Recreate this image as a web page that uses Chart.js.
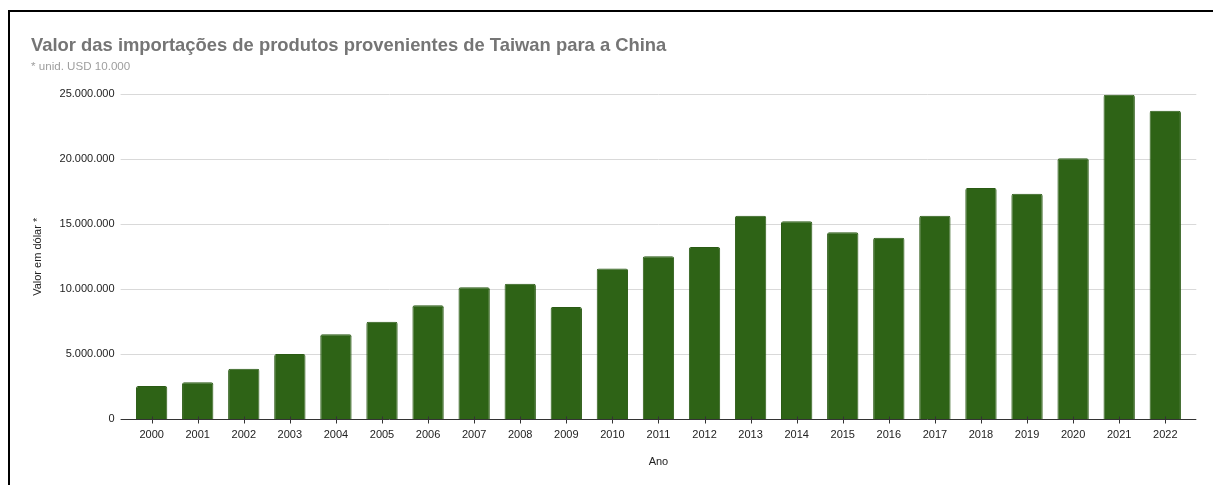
<!DOCTYPE html>
<html>
<head>
<meta charset="utf-8">
<script src="https://cdn.jsdelivr.net/npm/chart.js@4.4.1/dist/chart.umd.min.js"></script>
<style>
  html, body { margin: 0; padding: 0; background: #fff; overflow: hidden; }
  #frame { position: absolute; left: 8px; top: 10px; width: 1300px; height: 600px; border: 2px solid #000; }
  #wrap { position: absolute; left: 0; top: 0; width: 1213px; height: 485px; }
</style>
</head>
<body>
<div id="frame"></div>
<div id="wrap"><canvas id="chart" width="1213" height="485"></canvas></div>
<script>
// Data
const years = ['2000', '2001', '2002', '2003', '2004', '2005', '2006', '2007', '2008', '2009', '2010', '2011',
  '2012', '2013', '2014', '2015', '2016', '2017', '2018', '2019', '2020', '2021', '2022'];
const importValues = [2560000, 2850000, 3890000, 5020000, 6540000, 7510000, 8770000, 10150000, 10430000, 8640000,
  11600000, 12540000, 13250000, 15660000, 15230000, 14380000, 13970000, 15660000, 17790000, 17350000,
  20080000, 24970000, 23740000];
const yTicks = [0, 5000000, 10000000, 15000000, 20000000, 25000000];

const fmt = v => String(v).replace(/\B(?=(\d{3})+(?!\d))/g, '.');

// gridlines that run a bit past the plot on both sides, plus the black baseline
const gridPlugin = {
  id: 'extGrid',
  beforeDatasetsDraw(chart) {
    const { ctx, chartArea, scales } = chart;
    ctx.save();
    ctx.lineWidth = 1;
    ctx.strokeStyle = '#d9d9d9';
    yTicks.forEach(t => {
      if (t === 0) return;
      const y = Math.round(scales.y.getPixelForValue(t)) + 0.5;
      ctx.beginPath();
      ctx.moveTo(chartArea.left - 8, y);
      ctx.lineTo(chartArea.right + 8, y);
      ctx.stroke();
    });
    ctx.restore();
  },
  afterDatasetsDraw(chart) {
    const { ctx, chartArea, scales } = chart;
    const y = Math.round(scales.y.getPixelForValue(0)) + 0.5;
    ctx.save();
    ctx.strokeStyle = '#333';
    ctx.lineWidth = 1;
    ctx.beginPath();
    ctx.moveTo(chartArea.left - 8, y);
    ctx.lineTo(chartArea.right + 8, y);
    ctx.stroke();
    years.forEach((_, i) => {
      const x = Math.round(scales.x.getPixelForValue(i)) + 0.5;
      ctx.beginPath();
      ctx.moveTo(x, y - 3);
      ctx.lineTo(x, y + 4);
      ctx.stroke();
    });
    ctx.restore();
  }
};

new Chart(document.getElementById('chart'), {
  type: 'bar',
  data: {
    labels: years,
    datasets: [{
      data: importValues,
      backgroundColor: '#2e6316',
      borderColor: '#2a5a14',
      borderWidth: 1,
      borderRadius: 2,
      borderSkipped: 'start',
      barPercentage: 0.68,
      categoryPercentage: 1
    }]
  },
  plugins: [gridPlugin],
  options: {
    responsive: false,
    animation: false,
    devicePixelRatio: 1,
    layout: { padding: { left: 31, right: 24.7, top: 0, bottom: 0 } },
    plugins: {
      legend: { display: false },
      tooltip: { enabled: false },
      title: {
        display: true,
        text: 'Valor das importações de produtos provenientes de Taiwan para a China',
        align: 'start',
        color: '#757575',
        font: { family: 'Liberation Sans, Arial, sans-serif', size: 18.4, weight: 'bold' },
        padding: { top: 35, bottom: 3 }
      },
      subtitle: {
        display: true,
        text: '* unid. USD 10.000',
        align: 'start',
        color: '#9e9e9e',
        font: { family: 'Liberation Sans, Arial, sans-serif', size: 11.6 },
        padding: { top: 0, bottom: 20.3 }
      }
    },
    scales: {
      x: {
        grid: { display: false },
        border: { display: false },
        ticks: {
          color: '#222',
          padding: 1,
          maxRotation: 0,
          autoSkip: false,
          font: { family: 'Liberation Sans, Arial, sans-serif', size: 11 }
        },
        title: {
          display: true,
          text: 'Ano',
          color: '#222',
          font: { family: 'Liberation Sans, Arial, sans-serif', size: 11 },
          padding: { top: 0, bottom: 16.3 }
        },
        afterFit: scale => { scale.height = 65.7; }
      },
      y: {
        min: 0,
        max: 25000000,
        grid: { display: false },
        border: { display: false },
        afterBuildTicks: scale => { scale.ticks = yTicks.map(v => ({ value: v })); },
        ticks: {
          color: '#222',
          padding: 6,
          callback: v => fmt(v),
          font: { family: 'Liberation Sans, Arial, sans-serif', size: 11 }
        },
        title: {
          display: true,
          text: 'Valor em dólar *',
          color: '#222',
          font: { family: 'Liberation Sans, Arial, sans-serif', size: 11 },
          padding: { top: 0, bottom: 0 }
        },
        afterFit: scale => { scale.width = 97.6; }
      }
    }
  }
});
</script>
</body>
</html>
